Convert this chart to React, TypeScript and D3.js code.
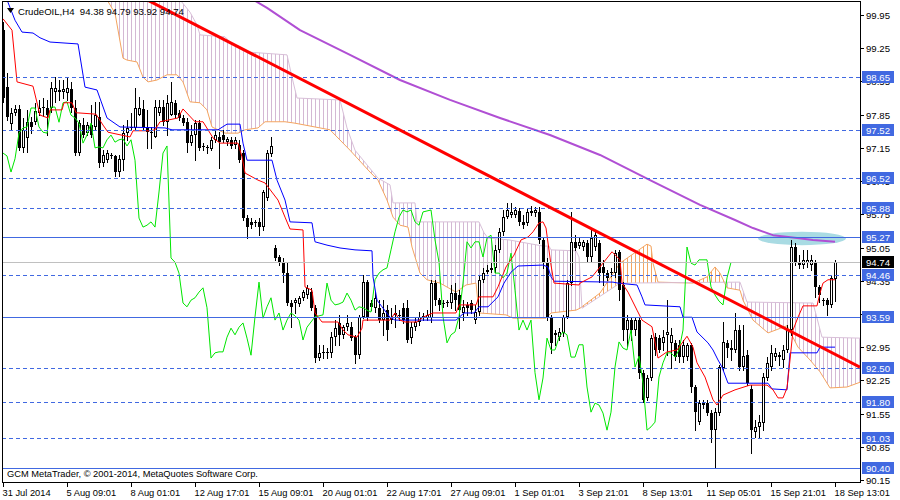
import { useRef, useEffect } from "react";
import * as d3 from "d3";

type Pt = [number, number];

const symbol = "CrudeOIL,H4";

// H4 candles, one value per bar (bar 0 = 31 Jul 2014)
const opens = [
  99.63, 98.43, 97.65, 97.89, 97.97, 97.15, 97.36, 97.69, 97.69, 97.89,
  97.99, 97.99, 97.99, 98.33, 98.33, 98.33, 98.31, 98.39, 97.99, 97.04,
  97.63, 97.46, 97.63, 97.59, 97.8, 96.83, 96.89, 97.0, 96.98, 96.64,
  96.89, 97.46, 97.57, 97.57, 97.84, 97.97, 97.59, 97.48, 97.38, 97.89,
  98.01, 97.69, 97.84, 98.1, 97.89, 97.78, 97.69, 97.25, 97.42, 97.67,
  97.19, 97.17, 97.13, 97.32, 97.38, 97.42, 97.27, 97.32, 97.21, 97.21,
  97.04, 95.67, 95.59, 95.57, 95.59, 95.48, 96.09, 97.02, 95.04, 94.85,
  94.74, 94.51, 93.88, 93.88, 93.86, 93.99, 94.05, 94.11, 93.78, 92.72,
  92.83, 92.83, 92.83, 93.16, 93.46, 93.21, 93.37, 93.37, 93.16, 92.78,
  93.59, 94.32, 93.88, 93.78, 93.78, 93.52, 93.73, 93.56, 93.63, 93.63,
  93.78, 93.78, 93.14, 93.37, 93.48, 93.59, 93.56, 93.56, 94.3, 93.94,
  93.88, 93.88, 93.88, 94.09, 94.05, 93.67, 93.84, 93.88, 93.52, 93.69,
  94.37, 94.53, 94.58, 94.62, 95.0, 95.38, 95.69, 95.73, 95.73, 95.82,
  95.59, 95.57, 95.78, 95.78, 95.8, 95.21, 94.74, 93.59, 93.25, 93.16,
  93.25, 93.59, 94.3, 95.17, 95.08, 95.06, 95.14, 94.85, 95.06, 95.14,
  94.64, 94.51, 94.53, 94.51, 94.96, 94.26, 93.31, 93.52, 93.31, 93.52,
  92.41, 91.88, 92.3, 93.16, 93.14, 93.04, 93.21, 93.04, 93.04, 93.0,
  92.74, 92.74, 93.0, 92.11, 91.37, 91.77, 91.77, 91.56, 91.2, 91.56,
  92.51, 93.04, 92.93, 92.89, 93.31, 92.53, 92.78, 92.07, 91.16, 91.27,
  91.35, 92.3, 92.53, 92.74, 92.78, 92.68, 92.89, 93.31, 95.06, 94.74,
  94.68, 94.72, 94.68, 94.72, 94.22, 93.94, 93.94, 93.84, 94.38,
];
const highs = [
  99.8, 98.73, 97.99, 98.05, 98.05, 97.78, 97.95, 97.8, 98.1, 98.16,
  98.2, 98.16, 98.54, 98.64, 98.58, 98.58, 98.64, 98.54, 98.16, 97.74,
  97.78, 97.69, 98.05, 98.12, 98.12, 97.1, 97.1, 97.04, 97.0, 97.0,
  97.63, 97.74, 97.89, 98.41, 98.22, 98.16, 97.95, 97.59, 98.16, 98.16,
  98.16, 98.26, 98.54, 98.16, 97.95, 97.84, 97.78, 97.63, 97.74, 97.74,
  97.25, 97.21, 97.38, 97.53, 97.48, 97.53, 97.38, 97.38, 97.38, 97.32,
  97.1, 95.73, 95.67, 95.63, 95.67, 96.26, 97.1, 97.38, 95.1, 94.89,
  94.83, 94.74, 93.94, 93.99, 94.03, 94.15, 94.26, 94.2, 93.84, 93.0,
  93.0, 92.93, 93.27, 93.52, 93.63, 93.42, 93.63, 93.48, 93.21, 93.63,
  94.47, 94.37, 93.94, 94.11, 93.94, 93.94, 93.84, 93.78, 93.84, 93.73,
  93.88, 93.94, 93.48, 93.56, 93.69, 93.67, 93.73, 94.37, 94.37, 93.99,
  93.94, 93.94, 94.26, 94.3, 94.15, 93.94, 93.9, 93.94, 93.84, 94.47,
  94.62, 94.68, 94.72, 95.1, 95.46, 95.84, 95.99, 95.99, 95.9, 95.88,
  95.73, 95.88, 95.92, 95.9, 95.9, 95.27, 94.83, 93.63, 93.31, 93.35,
  93.63, 94.37, 95.8, 95.31, 95.25, 95.21, 95.21, 95.42, 95.38, 95.21,
  94.79, 94.58, 94.62, 95.0, 95.0, 94.32, 93.63, 93.56, 93.56, 93.56,
  92.47, 92.36, 93.21, 93.25, 93.21, 93.31, 93.94, 93.35, 93.1, 93.1,
  93.1, 93.04, 93.04, 92.15, 91.84, 91.84, 91.84, 91.63, 91.67, 92.57,
  93.48, 93.1, 93.1, 93.67, 93.42, 93.42, 92.89, 92.15, 91.41, 91.52,
  92.41, 92.74, 93.0, 92.93, 92.85, 93.0, 93.42, 95.21, 95.14, 94.89,
  95.0, 95.0, 94.89, 94.79, 94.26, 93.99, 93.99, 94.47, 94.79,
];
const lows = [
  98.12, 97.74, 97.53, 97.84, 97.1, 97.06, 97.06, 97.46, 97.65, 97.84,
  97.82, 97.42, 97.91, 98.12, 98.16, 98.2, 98.16, 97.91, 97.0, 97.0,
  97.38, 97.42, 97.38, 97.53, 96.75, 96.77, 96.85, 96.94, 96.56, 96.56,
  96.68, 97.32, 97.53, 97.53, 97.84, 97.53, 97.15, 97.15, 97.38, 97.84,
  97.63, 97.42, 97.84, 97.8, 97.74, 97.63, 97.06, 97.21, 96.89, 97.1,
  97.1, 97.04, 97.1, 97.27, 96.73, 97.27, 97.21, 97.15, 97.15, 96.85,
  95.63, 95.25, 95.46, 95.5, 95.31, 95.42, 96.05, 96.98, 94.79, 94.68,
  94.32, 93.84, 93.37, 93.67, 93.82, 93.94, 93.99, 93.73, 92.64, 92.68,
  92.72, 92.72, 92.74, 93.0, 93.0, 93.14, 93.31, 93.1, 92.62, 92.72,
  93.56, 93.52, 93.73, 93.69, 93.48, 93.21, 93.1, 93.46, 93.37, 93.52,
  93.46, 93.06, 93.04, 93.31, 93.42, 93.52, 93.52, 93.48, 93.84, 93.73,
  93.8, 93.82, 93.78, 93.73, 93.35, 93.52, 93.63, 93.67, 93.46, 93.63,
  94.32, 94.51, 94.53, 94.53, 94.96, 95.31, 95.67, 95.69, 95.69, 95.52,
  95.46, 95.52, 95.73, 95.71, 95.14, 94.62, 93.52, 92.83, 93.0, 93.1,
  93.18, 93.56, 94.26, 95.0, 95.04, 95.0, 94.74, 94.74, 95.0, 94.32,
  94.26, 94.37, 94.45, 94.43, 93.94, 93.1, 92.95, 93.1, 93.21, 92.3,
  91.79, 91.84, 92.26, 92.78, 92.85, 92.89, 92.78, 92.51, 92.68, 92.64,
  92.64, 92.68, 92.0, 91.2, 91.33, 91.67, 91.52, 90.95, 90.42, 91.52,
  92.47, 92.74, 92.68, 92.85, 92.47, 92.47, 92.15, 90.72, 91.06, 91.06,
  91.2, 92.26, 92.47, 92.68, 92.57, 92.53, 92.85, 93.21, 94.68, 94.62,
  94.62, 94.64, 94.58, 94.01, 93.9, 93.84, 93.63, 93.8, 93.92,
];
const closes = [
  98.2, 97.8, 97.89, 97.97, 97.15, 97.53, 97.69, 97.59, 97.93, 97.99,
  98.01, 97.84, 98.41, 98.41, 98.37, 98.39, 98.41, 97.99, 97.04, 97.67,
  97.42, 97.63, 97.42, 97.84, 96.83, 97.0, 97.04, 96.98, 96.64, 96.92,
  97.46, 97.57, 97.59, 97.99, 97.99, 97.59, 97.48, 97.46, 98.01, 98.01,
  97.69, 98.1, 98.12, 97.84, 97.78, 97.67, 97.25, 97.42, 97.67, 97.15,
  97.17, 97.15, 97.32, 97.42, 97.27, 97.32, 97.34, 97.19, 97.32, 96.89,
  95.67, 95.48, 95.52, 95.59, 95.48, 96.22, 97.04, 97.19, 94.83, 94.74,
  94.51, 93.88, 93.8, 93.94, 93.99, 94.11, 94.2, 93.78, 92.72, 92.83,
  92.85, 92.85, 93.16, 93.35, 93.21, 93.37, 93.46, 93.14, 92.78, 93.59,
  94.32, 93.56, 93.8, 93.99, 93.52, 93.67, 93.31, 93.52, 93.67, 93.61,
  93.52, 93.1, 93.37, 93.48, 93.59, 93.61, 93.63, 94.3, 93.94, 93.84,
  93.86, 93.9, 94.09, 93.94, 93.73, 93.8, 93.78, 93.73, 93.69, 94.37,
  94.51, 94.58, 94.62, 95.0, 95.38, 95.69, 95.84, 95.8, 95.84, 95.59,
  95.52, 95.8, 95.82, 95.84, 95.21, 94.74, 93.59, 93.04, 93.21, 93.27,
  93.59, 94.3, 95.17, 95.04, 95.17, 95.17, 94.85, 95.25, 95.31, 94.51,
  94.51, 94.41, 94.51, 94.93, 94.15, 93.31, 93.52, 93.31, 93.52, 92.41,
  91.84, 92.3, 93.14, 92.89, 92.89, 93.16, 93.27, 93.21, 92.74, 92.74,
  93.0, 93.0, 92.11, 91.58, 91.77, 91.73, 91.56, 91.2, 91.58, 92.53,
  93.06, 92.93, 92.89, 93.31, 92.53, 92.76, 92.19, 91.2, 91.27, 91.37,
  92.32, 92.62, 92.83, 92.83, 92.74, 92.89, 93.31, 95.06, 94.72, 94.68,
  94.79, 94.79, 94.79, 94.22, 94.05, 93.92, 93.84, 94.41, 94.74,
];

// Ichimoku lines as [bar, price] breakpoints
const tenkan: Pt[] = [
  [0, 99.87], [2.25, 99.63], [3.5, 98.54], [7.5, 98.45], [9.25, 97.84], [11.25, 97.78],
  [11.75, 97.95], [14.75, 97.95], [15.25, 98.1], [17.25, 98.1], [18.25, 97.89], [23.25, 97.86],
  [25, 97.63], [26.25, 97.48], [31.75, 97.38], [32.5, 97.51], [36.75, 97.51], [38, 97.53],
  [39.25, 97.7], [43.75, 97.78], [45, 97.97], [48, 97.7], [50, 97.7], [52.5, 97.36],
  [54.25, 97.25], [58.75, 97.25], [59.75, 96.96], [60.5, 96.62], [63.75, 96.47], [65.5, 96.41],
  [68.75, 96.05], [70.5, 95.69], [71.75, 95.44], [75, 95.42], [75.5, 94.22], [77.25, 94.15],
  [78, 93.67], [79.75, 93.48], [83.75, 93.48], [85, 93.31], [86.25, 93.21], [88.5, 93.16],
  [89.75, 93.35], [90, 93.52], [96.75, 93.52], [98, 93.67], [99.25, 93.52], [100.5, 93.48],
  [103.5, 93.48], [105, 93.58], [107.5, 93.67], [113.25, 93.67], [114, 93.84], [118.25, 93.84],
  [119, 94.01], [122.5, 94.01], [123.75, 94.22], [125.75, 94.64], [127.75, 94.89], [129.5, 95.21],
  [131.25, 95.27], [132.5, 95.38], [134, 95.57], [135, 95.59], [135.75, 95.46], [137, 94.68],
  [137.75, 94.3], [144, 94.26], [144.25, 94.3], [147.25, 94.43], [149.25, 94.64], [152.25, 94.96],
  [154.25, 94.79], [154.75, 94.3], [156.25, 94.11], [158.5, 93.73], [159.75, 93.52], [162.25, 93.38],
  [163.75, 92.72], [166, 92.85], [168.5, 92.89], [171, 93.18], [172.5, 92.95], [173.5, 92.62],
  [175.5, 92.32], [177.5, 91.84], [178.5, 91.73], [180, 91.94], [183, 92.05], [186.75, 92.15],
  [191, 92.15], [192.5, 92.05], [193.75, 91.88], [195, 91.88], [196, 92.09], [196.75, 92.68],
  [197.5, 93.31], [198.75, 93.58], [200, 93.82], [203.5, 93.82], [204.25, 94.09], [205, 94.3],
  [206.25, 94.37], [208, 94.37],
];
const kijun: Pt[] = [
  [0, 100.5], [1, 100.27], [3, 99.84], [4.75, 99.59], [7.5, 99.57], [9.25, 99.47],
  [11.75, 99.38], [18.75, 99.34], [20.5, 98.43], [23.5, 98.37], [26, 97.78], [29.25, 97.59],
  [40.5, 97.57], [42.25, 97.53], [53.75, 97.53], [56, 97.65], [59.25, 97.65], [60, 97.25],
  [61, 96.89], [67.25, 96.89], [68.5, 96.47], [70.5, 96.05], [71.75, 95.59], [77.25, 95.57],
  [78, 95.17], [81, 95.1], [84.25, 95.04], [88, 95.0], [92.25, 94.98], [92.5, 94.43],
  [93.5, 93.94], [94.75, 93.8], [96.75, 93.58], [98, 93.52], [113.25, 93.52], [115.25, 93.67],
  [117.75, 93.67], [119, 93.8], [121.25, 93.8], [123.75, 94.01], [125.25, 94.3], [127, 94.53],
  [128.75, 94.66], [135, 94.68], [136.25, 94.64], [137, 94.43], [137.75, 94.34], [152.5, 94.32],
  [153.75, 94.3], [158.5, 94.26], [159.75, 94.01], [160.5, 93.84], [169.25, 93.8], [170, 93.58],
  [172.25, 93.58], [173.5, 93.27], [176.25, 93.04], [177.5, 92.89], [178.75, 92.68], [179.75, 92.53],
  [181.25, 92.19], [191.25, 92.19], [192.25, 92.07], [196, 92.05], [196.75, 92.83], [203.5, 92.83],
  [204.25, 92.95], [208, 92.95],
];
const senkouA: Pt[] = [
  [25, 100.6], [26, 100.27], [28, 99.99], [30, 99.04], [31, 99.0], [33.5, 98.96],
  [35, 98.64], [36.25, 98.54], [38.5, 98.58], [41, 98.69], [43.5, 98.69], [45, 98.54],
  [46.75, 98.12], [49.25, 98.1], [51, 97.95], [52.25, 97.59], [55.5, 97.46], [58.75, 97.46],
  [60.5, 97.53], [63.75, 97.57], [65.5, 97.7], [70.5, 97.7], [73, 97.67], [81.75, 97.53],
  [86.75, 97.1], [91.75, 96.64], [93.75, 96.47], [96, 96.05], [97.5, 95.69], [99.25, 95.52],
  [101.25, 95.48], [102.25, 95.06], [104.25, 94.51], [106, 94.37], [109.25, 94.3], [113.25, 94.11],
  [115.75, 94.26], [118.25, 94.3], [119, 93.67], [125.75, 93.63], [127.5, 93.56], [135.75, 93.56],
  [137, 93.67], [143.25, 93.73], [144.25, 93.77], [149.25, 94.09], [154.25, 94.72], [161, 95.12],
  [162, 95.08], [162.5, 94.72], [163.75, 94.32], [172.5, 94.3], [176, 94.43], [178, 94.64],
  [179.25, 94.51], [181, 94.2], [184.25, 94.15], [185, 93.94], [187.5, 93.52], [191.25, 93.25],
  [196, 93.4], [198.75, 92.95], [201.75, 92.68], [204.25, 92.43], [206.75, 92.09], [211, 92.11],
  [214.25, 92.21],
];
const senkouB: Pt[] = [
  [25, 101.0], [44, 100.6], [44.25, 100.27], [46.75, 100.01], [48.5, 99.74], [49.25, 99.53],
  [55.5, 99.49], [57.5, 99.32], [61, 99.17], [71, 99.11], [72.25, 98.64], [73.5, 98.2],
  [84.25, 98.16], [86, 97.57], [88, 97.1], [93.75, 96.51], [96.75, 96.37], [97.5, 95.99],
  [103, 95.99], [103.5, 95.59], [119, 95.59], [120.25, 95.36], [121.25, 95.25], [126.5, 95.21],
  [135, 95.08], [136.5, 95.08], [137, 95.0], [143.25, 94.98], [144, 94.85], [144.75, 93.77],
  [154.25, 94.3], [184.25, 94.32], [186, 93.9], [202.5, 93.88], [204.75, 93.16], [214.25, 93.14],
];
const chikouShift = 26;

// slow moving average (purple)
const movingAvg: Pt[] = [
  [60, 100.4], [66, 100.1], [74.25, 99.63], [86.75, 99.11], [99.25, 98.58], [111.75, 98.16],
  [124.25, 97.78], [136.75, 97.42], [149.25, 97.0], [161.75, 96.47], [174.25, 95.95], [183, 95.63],
  [187.5, 95.46], [192.5, 95.31], [198.5, 95.25], [202.5, 95.21], [208, 95.17],
];

// drawn objects
const trendLine: Pt[] = [[36, 100.27], [214.25, 92.53]];
const highlight = { bar: 199.75, price: 95.24, halfBars: 11, halfPrice: 0.14 };
const dashedLevels = [98.65, 97.52, 96.52, 95.88, 94.46, 92.5, 91.8, 91.03];
const solidLevels = [95.27, 93.59, 90.4];
const bidPrice = 94.74;

const priceTicks = [99.95, 99.25, 98.55, 97.85, 97.15, 96.45, 95.75, 95.05, 94.35, 93.65, 92.95, 92.25, 91.55, 90.85, 90.15];
const dateBars = [0, 16, 32, 48, 64, 80, 96, 112, 128, 144, 160, 176, 192, 208];
const dateLabels = [
  "31 Jul 2014", "5 Aug 09:01", "8 Aug 01:01", "12 Aug 17:01", "15 Aug 09:01", "20 Aug 01:01",
  "22 Aug 17:01", "27 Aug 09:01", "1 Sep 01:01", "3 Sep 21:01", "8 Sep 13:01", "11 Sep 05:01",
  "15 Sep 21:01", "18 Sep 13:01",
];

export default function App() {
  const svgRef = useRef<SVGSVGElement | null>(null);

  useEffect(() => {
    const svg = d3.select(svgRef.current);
    svg.selectAll("*").remove();

    const left = 2, top = 1, right = 860, bottom = 482;
    const font = "'Liberation Sans', Arial, sans-serif";
    const x = d3.scaleLinear().domain([0, 214.25]).range([3, 860]);
    const y = d3.scaleLinear().domain([90.15, 99.95]).range([480, 15]);
    const py = (p: number) => Math.round(y(p)) + 0.5;
    const line = d3.line<Pt>().x((d) => x(d[0])).y((d) => y(d[1]));

    svg.append("rect").attr("width", 900).attr("height", 500).attr("fill", "#fff");

    const defs = svg.append("defs");
    defs.append("clipPath").attr("id", "plotClip")
      .append("rect").attr("x", left + 1).attr("y", top + 1)
      .attr("width", right - left - 1).attr("height", bottom - top - 1);

    const sideClip = (id: string, pts: Pt[], edge: number) => {
      const x0 = x(pts[0][0]), x1 = x(pts[pts.length - 1][0]);
      defs.append("clipPath").attr("id", id)
        .append("path").attr("d", `${line(pts)}L${x1},${edge}L${x0},${edge}Z`);
    };
    sideClip("aboveA", senkouA, -200);
    sideClip("belowA", senkouA, 800);
    sideClip("aboveB", senkouB, -200);
    sideClip("belowB", senkouB, 800);

    const hatch = (id: string, color: string) => {
      const p = defs.append("pattern").attr("id", id)
        .attr("patternUnits", "userSpaceOnUse")
        .attr("x", x(0)).attr("y", 0)
        .attr("width", x(1) - x(0)).attr("height", 10);
      p.append("rect").attr("width", 1).attr("height", 10).attr("fill", color);
    };
    hatch("hatchThistle", "#d4b8d4");
    hatch("hatchSand", "#f4a460");

    const plot = svg.append("g").attr("clip-path", "url(#plotClip)");

    // highlight ellipse (background object)
    plot.append("ellipse")
      .attr("cx", x(highlight.bar)).attr("cy", y(highlight.price))
      .attr("rx", x(highlight.halfBars) - x(0))
      .attr("ry", y(highlight.price - highlight.halfPrice) - y(highlight.price))
      .attr("fill", "#a9dbe3");

    // kumo hatching
    plot.append("g").attr("clip-path", "url(#belowB)")
      .append("g").attr("clip-path", "url(#aboveA)")
      .append("rect").attr("x", 0).attr("y", 0).attr("width", 900).attr("height", 500)
      .attr("fill", "url(#hatchThistle)");
    plot.append("g").attr("clip-path", "url(#belowA)")
      .append("g").attr("clip-path", "url(#aboveB)")
      .append("rect").attr("x", 0).attr("y", 0).attr("width", 900).attr("height", 500)
      .attr("fill", "url(#hatchSand)");

    const drawLine = (pts: Pt[], color: string, width: number) =>
      plot.append("path").attr("d", line(pts)).attr("fill", "none")
        .attr("stroke", color).attr("stroke-width", width).attr("stroke-linejoin", "round");

    drawLine(senkouA, "#f4a460", 1);
    drawLine(senkouB, "#d8bfd8", 1);

    // candles
    const candles = plot.append("g").attr("shape-rendering", "crispEdges");
    opens.forEach((o, i) => {
      const c = closes[i];
      const cx = x(i);
      candles.append("line")
        .attr("x1", cx + 0.5).attr("x2", cx + 0.5)
        .attr("y1", Math.round(y(highs[i]))).attr("y2", Math.round(y(lows[i])) + 1)
        .attr("stroke", "#000");
      const yTop = Math.round(y(Math.max(o, c)));
      const yBot = Math.round(y(Math.min(o, c)));
      const h = Math.max(1, yBot - yTop);
      if (c > o && h > 2) {
        candles.append("rect").attr("x", cx - 0.5).attr("y", yTop + 0.5)
          .attr("width", 2).attr("height", h - 1)
          .attr("fill", "#fff").attr("stroke", "#000");
      } else {
        candles.append("rect").attr("x", cx - 1).attr("y", yTop)
          .attr("width", 3).attr("height", h).attr("fill", "#000");
      }
    });

    // chikou span = closes shifted back
    const chikou: Pt[] = closes.slice(chikouShift).map((c, i) => [i, c]);
    drawLine(chikou, "#00e600", 1);
    drawLine(kijun, "#0000ff", 1);
    drawLine(tenkan, "#ff0000", 1);
    drawLine(movingAvg, "#b04fd4", 2);

    // levels
    const levels = plot.append("g").attr("shape-rendering", "crispEdges");
    levels.append("line").attr("x1", left).attr("x2", right)
      .attr("y1", py(bidPrice)).attr("y2", py(bidPrice)).attr("stroke", "#c0c0c0");
    dashedLevels.forEach((p) => {
      levels.append("line").attr("x1", left).attr("x2", right)
        .attr("y1", py(p)).attr("y2", py(p))
        .attr("stroke", "#4169e1").attr("stroke-dasharray", "4,3");
    });
    solidLevels.forEach((p) => {
      levels.append("line").attr("x1", left).attr("x2", right)
        .attr("y1", py(p)).attr("y2", py(p)).attr("stroke", "#4169e1");
    });

    drawLine(trendLine, "#ff0000", 3);

    // header and copyright
    plot.append("path").attr("d", "M7,8L14,8L10.5,13Z").attr("fill", "#000");
    const last = opens.length - 1;
    plot.append("text").attr("x", 18).attr("y", 15)
      .attr("font-family", font).attr("font-size", 9.6).attr("fill", "#000")
      .attr("xml:space", "preserve")
      .text(`${symbol}  ${opens[last].toFixed(2)} ${highs[last].toFixed(2)} ${lows[last].toFixed(2)} ${closes[last].toFixed(2)}`);
    plot.append("text").attr("x", 7).attr("y", 477)
      .attr("font-family", font).attr("font-size", 9.3).attr("fill", "#000")
      .text("GCM MetaTrader, © 2001-2014, MetaQuotes Software Corp.");

    // frame
    const frame = svg.append("g").attr("shape-rendering", "crispEdges");
    frame.append("rect").attr("x", left + 0.5).attr("y", top + 0.5)
      .attr("width", right - left).attr("height", bottom - top)
      .attr("fill", "none").attr("stroke", "#000");

    // price axis
    const axis = svg.append("g").attr("font-family", font).attr("font-size", 9.6);
    priceTicks.forEach((p) => {
      axis.append("line").attr("x1", right).attr("x2", right + 4)
        .attr("y1", py(p)).attr("y2", py(p)).attr("stroke", "#000")
        .attr("shape-rendering", "crispEdges");
      axis.append("text").attr("x", 866).attr("y", Math.round(y(p)) + 4).attr("fill", "#000")
        .text(p.toFixed(2));
    });
    const tag = (p: number, bg: string) => {
      const cy = Math.round(y(p));
      axis.append("rect").attr("x", 862).attr("y", cy - 6).attr("width", 32).attr("height", 12)
        .attr("fill", bg).attr("shape-rendering", "crispEdges");
      axis.append("text").attr("x", 866).attr("y", cy + 4).attr("fill", "#fff").text(p.toFixed(2));
    };
    [...dashedLevels, ...solidLevels].forEach((p) => tag(p, "#4169e1"));
    tag(bidPrice, "#000");

    // time axis
    dateBars.forEach((b, i) => {
      axis.append("line").attr("x1", x(b) + 0.5).attr("x2", x(b) + 0.5)
        .attr("y1", bottom).attr("y2", bottom + 5).attr("stroke", "#000")
        .attr("shape-rendering", "crispEdges");
      axis.append("text").attr("x", x(b) - 0.5).attr("y", 496).attr("fill", "#000")
        .attr("font-size", 9.3)
        .text(dateLabels[i]);
    });
  }, []);

  return (
    <svg
      ref={svgRef}
      width={900}
      height={500}
      style={{ position: "absolute", left: 0, top: 0, display: "block" }}
    />
  );
}
